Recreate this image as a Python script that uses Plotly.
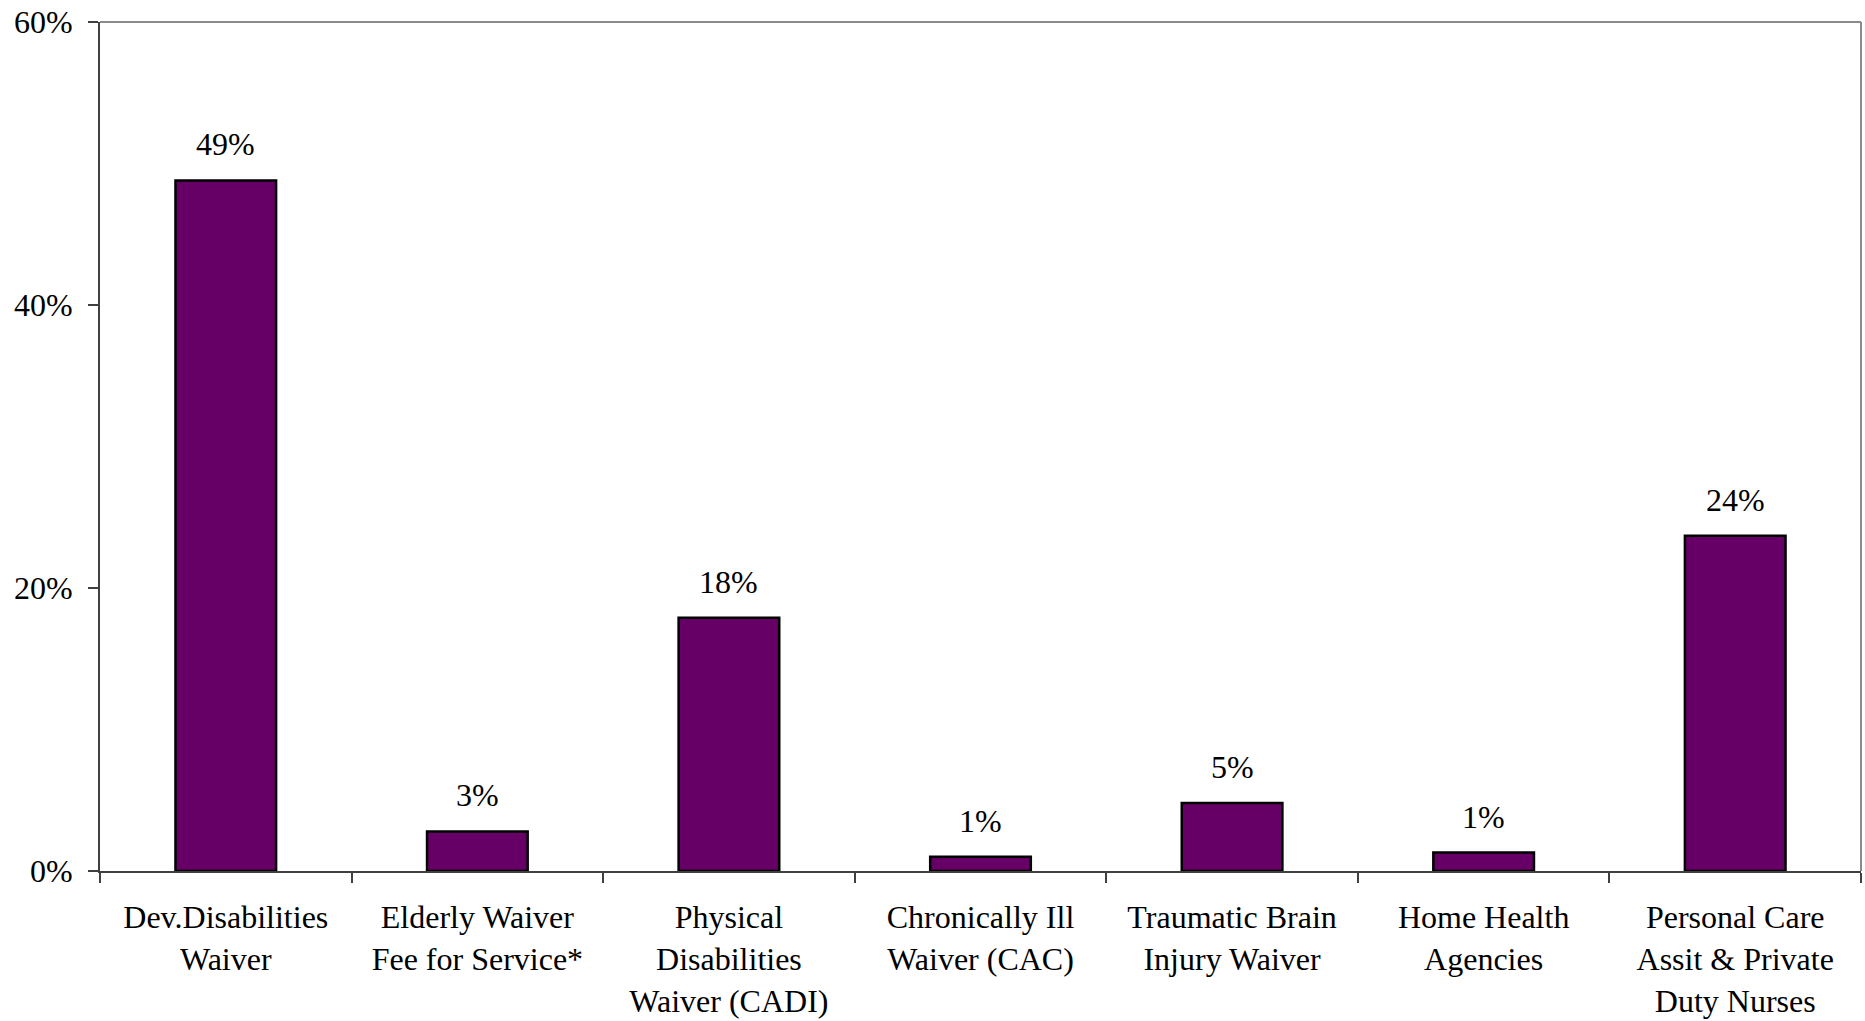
import plotly.graph_objects as go

categories = [
    "Dev.Disabilities<br>Waiver",
    "Elderly Waiver<br>Fee for Service*",
    "Physical<br>Disabilities<br>Waiver (CADI)",
    "Chronically Ill<br>Waiver (CAC)",
    "Traumatic Brain<br>Injury Waiver",
    "Home Health<br>Agencies",
    "Personal Care<br>Assit & Private<br>Duty Nurses",
]
values = [48.8, 2.8, 17.9, 1.0, 4.8, 1.3, 23.7]
labels = [f"{round(v)}%" for v in values]
y_ticks = [0, 20, 40, 60]
y_tick_text = ["0%", "20%", "40%", "60%"]

FONT = "Liberation Serif, Times New Roman, serif"
FSIZE = 32
AXIS_DARK = "#404040"
FRAME = "#8a8a8a"

fig = go.Figure()
fig.add_trace(go.Bar(
    x=categories,
    y=values,
    width=0.4,
    marker=dict(color="#660066", line=dict(color="#000000", width=2.5)),
    hoverinfo="skip",
))

for c, v, t in zip(categories, values, labels):
    fig.add_annotation(
        x=c, y=v, text=t, showarrow=False,
        xanchor="center", yanchor="bottom", yshift=16,
        font=dict(family=FONT, size=FSIZE, color="#000000"),
    )

# frame on top and right
fig.add_shape(type="line", xref="paper", yref="paper", x0=0, x1=1, y0=1, y1=1,
              line=dict(color=FRAME, width=2))
fig.add_shape(type="line", xref="paper", yref="paper", x0=1, x1=1, y0=0, y1=1,
              line=dict(color=FRAME, width=2))

fig.update_layout(
    width=1865, height=1021,
    margin=dict(l=100, r=4, t=22, b=150, autoexpand=False),
    plot_bgcolor="white", paper_bgcolor="white",
    showlegend=False,
    font=dict(family=FONT, size=FSIZE, color="#000000"),
)
fig.update_xaxes(
    type="category", automargin=False,
    showline=True, linecolor=AXIS_DARK, linewidth=2,
    ticks="outside", tickson="boundaries", ticklen=10, tickcolor=AXIS_DARK, tickwidth=1.5,
    showgrid=False, zeroline=False,
    tickfont=dict(family=FONT, size=FSIZE, color="#000000"),
    ticklabelstandoff=17,
    ticklabeloverflow="allow",
)
fig.update_yaxes(
    range=[0, 60], automargin=False,
    tickvals=y_ticks, ticktext=y_tick_text,
    showline=True, linecolor=AXIS_DARK, linewidth=2,
    ticks="outside", ticklen=10, tickcolor=AXIS_DARK, tickwidth=1.5,
    showgrid=False, zeroline=False,
    tickfont=dict(family=FONT, size=FSIZE, color="#000000"),
    ticklabelstandoff=9,
    ticklabeloverflow="allow",
)

fig.write_html(
    "out.html",
    config={"displayModeBar": False},
    post_script="document.body.style.margin='0';document.body.style.overflow='hidden';",
)
